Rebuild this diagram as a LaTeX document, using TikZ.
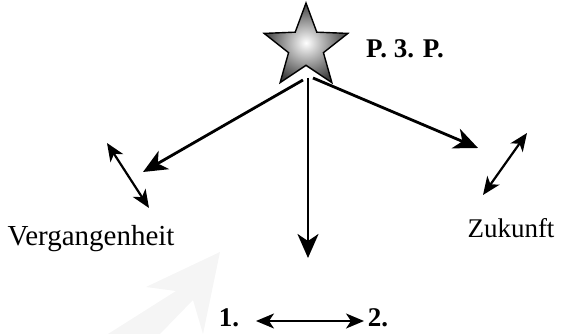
\documentclass[tikz,border=0pt]{standalone}
\usepackage{fontspec}
\setmainfont{Liberation Serif}
\usetikzlibrary{arrows.meta,shapes.geometric}

\tikzset{
  ray/.style={line width=2.8pt, -{Stealth[length=24pt,width=21pt,inset=7pt]}},
  swing/.style={line width=2.2pt, {Stealth[length=18pt,width=15pt,inset=5pt]}-{Stealth[length=18pt,width=15pt,inset=5pt]}},
  label/.style={font=\fontsize{27}{30}\selectfont, inner sep=0pt},
  boldlabel/.style={label, font=\fontsize{27}{30}\selectfont\bfseries}
}

\begin{document}
\begin{tikzpicture}[x=1pt, y=-1pt]
    \useasboundingbox (0,0) rectangle (571,334);
    % faint background arrow
    \fill[black!4] (220,252) -- (146,287) -- (176,291) -- (108,334)
                   -- (160,334) -- (193,300) -- (203,334) -- cycle;
    % star and title
    \node[star, star points=5, star point ratio=2.4, minimum size=88pt,
          inner sep=0pt, draw=black, line width=1.4pt,
          inner color=white, outer color=black!75] (star) at (306,47) {};
    \node[boldlabel] (title) at (405,49) {P. 3. P.};
    \coordinate (hubL) at (303,80);
    \coordinate (hubC) at (308,78);
    \coordinate (hubR) at (313,78);
    % the three rays
    \coordinate (past) at (143,172);
    \coordinate (future) at (478,148);
    \coordinate (now) at (308,258);
    \draw[ray] (hubL) -- (past);
    \draw[ray] (hubR) -- (future);
    \draw[ray] (hubC) -- (now);
    % double arrows
    \coordinate (pastA) at (107,143);
    \coordinate (pastB) at (149,208);
    \coordinate (futA) at (527,133);
    \coordinate (futB) at (483,195);
    \draw[swing] (pastA) -- (pastB);
    \draw[swing] (futA) -- (futB);
    % labels
    \node[label, font=\fontsize{29}{32}\selectfont] (vg) at (91,239) {Vergangenheit};
    \node[label] (zk) at (511,228) {Zukunft};
    \node[boldlabel] (one) at (229,318) {1.};
    \node[boldlabel] (two) at (378,318) {2.};
    \coordinate (oneE) at (256,321);
    \coordinate (twoW) at (364,321);
    \draw[swing] (oneE) -- (twoW);
  \end{tikzpicture}
\end{document}
